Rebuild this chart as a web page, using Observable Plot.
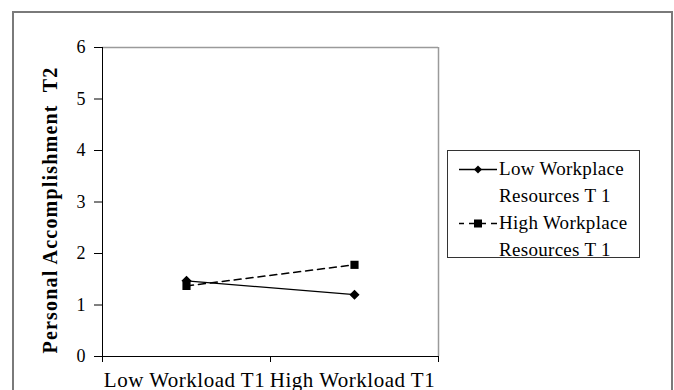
<!DOCTYPE html>
<html>
<head>
<meta charset="utf-8">
<script src="https://cdn.jsdelivr.net/npm/d3@7"></script>
<script src="https://cdn.jsdelivr.net/npm/@observablehq/plot@0.6"></script>
<style>
  html, body { margin: 0; padding: 0; background: #fff; color: #000; overflow: hidden; }
  #wrap { position: relative; width: 674px; height: 390px; font-family: "Liberation Serif", "Times New Roman", serif; }
  #outer { position: absolute; left: 12px; top: 11px; width: 661px; height: 420px; box-sizing: border-box; border: 2px solid #7a7a7a; border-bottom: none; pointer-events: none; }
  #legend { position: absolute; left: 447px; top: 150px; width: 193px; height: 108px; box-sizing: border-box; border: 1.5px solid #333; background: #fff; font-size: 19px; letter-spacing: 0.3px; line-height: 27px; padding-top: 3.5px; }
  .entry { position: relative; padding-left: 51px; }
  .entry svg { position: absolute; left: 11px; top: 6px; }
  #chart { position: absolute; left: 0; top: 0; }
</style>
</head>
<body>
<div id="wrap">
  <div id="chart"></div>
  <div id="outer"></div>
  <div id="legend"></div>
</div>
<script>
const categories = ["Low Workload T1", "High Workload T1"];
const seriesNames = ["Low Workplace Resources T 1", "High Workplace Resources T 1"];
const lowResources = [1.47, 1.20];
const highResources = [1.37, 1.78];
const yTicks = [0, 1, 2, 3, 4, 5, 6];
const yTitle = "Personal Accomplishment  T2";

const rows = [];
categories.forEach((c, i) => {
  rows.push({cat: c, idx: i, series: seriesNames[0], value: lowResources[i]});
  rows.push({cat: c, idx: i, series: seriesNames[1], value: highResources[i]});
});
const lowRows = rows.filter(d => d.series === seriesNames[0]);
const highRows = rows.filter(d => d.series === seriesNames[1]);
const xPos = d => d.idx + 0.5;

const chart = Plot.plot({
  width: 674,
  height: 390,
  marginLeft: 102,
  marginRight: 236,
  marginTop: 47,
  marginBottom: 34,
  style: {fontFamily: "Liberation Serif, Times New Roman, serif", color: "#000", background: "transparent"},
  x: {domain: [0, categories.length]},
  y: {domain: [0, 6]},
  marks: [
    Plot.ruleY([6], {stroke: "#9a9a9a", strokeWidth: 1.5}),
    Plot.ruleX([categories.length], {stroke: "#9a9a9a", strokeWidth: 1.5}),
    Plot.axisY({ticks: yTicks, tickSize: 8, tickPadding: 9, fontSize: 18, label: null, tickFormat: d => String(d)}),
    Plot.axisX({ticks: d3.range(categories.length + 1), tickSize: 6, tickFormat: () => "", label: null}),
    Plot.ruleX([0], {stroke: "#000", strokeWidth: 1}),
    Plot.ruleY([0], {stroke: "#000", strokeWidth: 1}),
    Plot.text(categories, {x: (d, i) => i + 0.5, y: 0, dx: -2, dy: 24, text: d => d, fontSize: 21, lineAnchor: "middle", ariaDescription: "xcat"}),
    Plot.text([yTitle], {frameAnchor: "left", dx: -52, dy: 8, rotate: -90, textAnchor: "middle", text: d => d, fontSize: 20, fontWeight: "bold", ariaDescription: "ytitle"}),
    Plot.line(lowRows, {x: xPos, y: "value", stroke: "#000", strokeWidth: 1.3}),
    Plot.line(highRows, {x: xPos, y: "value", stroke: "#000", strokeWidth: 1.5, strokeDasharray: "7,5"}),
    Plot.dot(lowRows, {x: xPos, y: "value", symbol: "diamond2", r: 3.6, fill: "#000", stroke: "#000"}),
    Plot.dot(highRows, {x: xPos, y: "value", symbol: "square", r: 4.6, fill: "#000", stroke: "none"})
  ]
});
chart.querySelectorAll('g[aria-description="xcat"] text').forEach(t => t.setAttribute("letter-spacing", "0.5"));
chart.querySelectorAll('g[aria-description="ytitle"] text').forEach(t => t.setAttribute("letter-spacing", "1.2"));
document.getElementById("chart").appendChild(chart);

// Legend
const legend = document.getElementById("legend");
const legendStyles = [
  {dash: null, sym: "diamond"},
  {dash: "5,5", sym: "square"}
];
seriesNames.forEach((name, i) => {
  const parts = name.split(" ");
  const line1 = parts.slice(0, 2).join(" ");
  const line2 = parts.slice(2).join(" ");
  const div = document.createElement("div");
  div.className = "entry";
  const st = legendStyles[i];
  const marker = st.sym === "diamond"
    ? '<path d="M19,4.5 L23,8.5 L19,12.5 L15,8.5 Z" fill="#000"/>'
    : '<rect x="15" y="4.5" width="8" height="8" fill="#000"/>';
  const line = st.dash
    ? '<line x1="0" y1="8.5" x2="38" y2="8.5" stroke="#000" stroke-width="1.5" stroke-dasharray="6,5" stroke-dashoffset="1"/>'
    : '<line x1="0" y1="8.5" x2="38" y2="8.5" stroke="#000" stroke-width="1.3"/>';
  div.innerHTML = '<svg width="40" height="17">' + line + marker + '</svg>' +
    '<div>' + line1 + '</div><div>' + line2 + '</div>';
  legend.appendChild(div);
});
</script>
</body>
</html>
